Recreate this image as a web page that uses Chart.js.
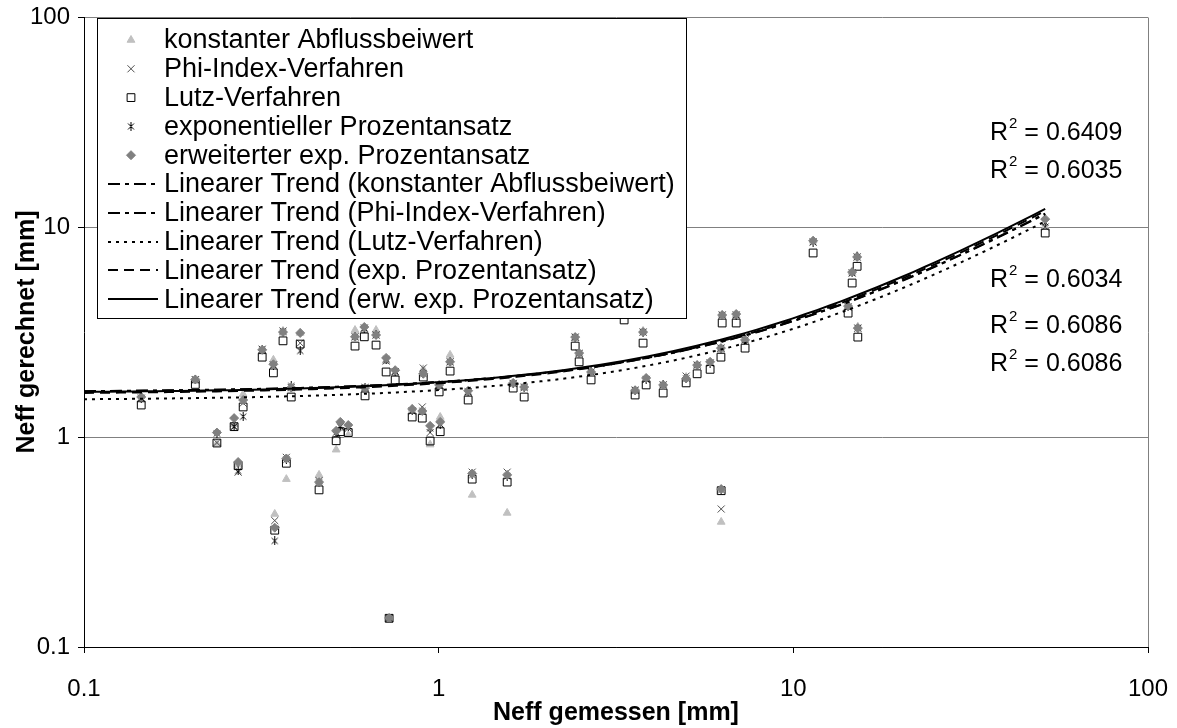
<!DOCTYPE html>
<html>
<head>
<meta charset="utf-8">
<script src="https://cdn.jsdelivr.net/npm/chart.js@4.4.0/dist/chart.umd.min.js"></script>
<style>
  html, body { margin: 0; padding: 0; background: #fff; }
  #wrap { width: 1177px; height: 728px; }
</style>
</head>
<body>
<div id="wrap"><canvas id="chart" width="1177" height="728"></canvas></div>
<script>
// --- Daten ---
const xGemessen = [0.145, 0.206, 0.237, 0.265, 0.272, 0.281, 0.318, 0.342, 0.345, 0.364,
  0.372, 0.384, 0.407, 0.460, 0.514, 0.528, 0.556, 0.581, 0.617, 0.620,
  0.666, 0.711, 0.725, 0.754, 0.842, 0.899, 0.905, 0.946, 1.003, 1.010,
  1.077, 1.211, 1.243, 1.56, 1.622, 1.742, 2.426, 2.489, 2.69, 3.334,
  3.58, 3.77, 3.846, 4.295, 4.986, 5.355, 5.826, 6.25, 6.26, 6.30,
  6.90, 7.31, 11.37, 14.27, 14.65, 15.13, 15.20, 51.3];

const yKonstant = [1.50, 1.85, 0.93, 1.15, 0.74, 1.60, 2.55, 2.33, 0.43, 3.20,
  0.63, 1.70, 3.13, 0.66, 0.87, 1.10, 1.02, 3.23, 3.20, 1.68,
  3.23, 2.30, 0.135, 2.00, 1.36, 1.33, 2.10, 0.92, 1.75, 1.245,
  2.46, 1.62, 0.53, 0.435, 1.78, 1.72, 2.95, 2.50, 2.05, 4.00,
  1.65, 3.20, 1.90, 1.77, 1.93, 2.20, 2.25, 2.60, 0.394, 3.81,
  3.81, 2.90, 8.60, 4.20, 6.10, 7.30, 3.35, 10.0];

const yPhi = [1.53, 1.87, 0.94, 1.12, 0.68, 1.45, 2.62, 2.20, 0.40, 3.20,
  0.80, 1.72, 2.80, 0.62, 1.02, 1.12, 1.10, 3.00, 3.30, 1.72,
  3.06, 2.30, 0.137, 2.05, 1.33, 1.39, 2.13, 1.05, 1.76, 1.15,
  2.28, 1.64, 0.68, 0.68, 1.80, 1.72, 2.99, 2.50, 2.04, 3.95,
  1.67, 3.16, 1.88, 1.77, 1.95, 2.20, 2.25, 2.65, 0.454, 3.81,
  3.81, 2.90, 8.48, 4.16, 6.04, 7.20, 3.30, 10.0];

const yLutz = [1.42, 1.78, 0.936, 1.12, 0.73, 1.39, 2.40, 2.02, 0.36, 2.87,
  0.75, 1.55, 2.77, 0.56, 0.96, 1.06, 1.05, 2.71, 3.00, 1.57,
  2.74, 2.04, 0.137, 1.87, 1.245, 1.23, 1.93, 0.957, 1.64, 1.06,
  2.06, 1.50, 0.63, 0.61, 1.71, 1.55, 2.71, 2.28, 1.87, 3.61,
  1.585, 2.80, 1.77, 1.62, 1.81, 2.00, 2.10, 2.40, 0.555, 3.49,
  3.49, 2.65, 7.52, 3.89, 5.41, 6.50, 2.99, 9.36];

const yExp = [1.53, 1.88, 1.04, 1.12, 0.69, 1.25, 2.60, 2.20, 0.32, 3.16,
  0.78, 1.75, 2.57, 0.61, 1.05, 1.12, 1.12, 3.00, 3.30, 1.72,
  3.06, 2.35, 0.137, 2.05, 1.33, 1.33, 2.00, 1.10, 1.76, 1.15,
  2.28, 1.64, 0.66, 0.65, 1.80, 1.73, 2.99, 2.50, 2.04, 3.95,
  1.67, 3.16, 1.88, 1.77, 1.90, 2.20, 2.25, 2.65, 0.56, 3.81,
  3.81, 2.90, 8.48, 4.16, 6.04, 7.20, 3.30, 10.5];

const yErw = [1.55, 1.88, 1.05, 1.23, 0.76, 1.50, 2.60, 2.22, 0.37, 3.16,
  0.79, 1.72, 3.13, 0.61, 1.07, 1.18, 1.14, 3.00, 3.34, 1.71,
  3.06, 2.38, 0.1375, 2.08, 1.36, 1.33, 2.00, 1.13, 1.77, 1.18,
  2.28, 1.66, 0.67, 0.66, 1.81, 1.73, 2.99, 2.51, 2.04, 3.95,
  1.67, 3.16, 1.91, 1.77, 1.90, 2.20, 2.28, 2.65, 0.565, 3.81,
  3.85, 2.90, 8.60, 4.20, 6.10, 7.20, 3.30, 10.9];

const axisTicks = [0.1, 1, 10, 100];
const r2Texte = ['0.6409', '0.6035', '0.6034', '0.6086', '0.6086'];

const serienNamen = ['konstanter Abflussbeiwert', 'Phi-Index-Verfahren', 'Lutz-Verfahren',
  'exponentieller Prozentansatz', 'erweiterter exp. Prozentansatz'];
const trendNamen = ['Linearer Trend (konstanter Abflussbeiwert)', 'Linearer Trend (Phi-Index-Verfahren)',
  'Linearer Trend (Lutz-Verfahren)', 'Linearer Trend (exp. Prozentansatz)',
  'Linearer Trend (erw. exp. Prozentansatz)'];

const FONT = "'Liberation Sans', Arial, sans-serif";

// --- Marker ---
function makeAsterisk() {
  const c = document.createElement('canvas');
  c.width = 9; c.height = 9;
  const g = c.getContext('2d');
  g.strokeStyle = '#000';
  g.lineWidth = 1;
  g.beginPath();
  g.moveTo(1.5, 1.5); g.lineTo(7.5, 7.5);
  g.moveTo(7.5, 1.5); g.lineTo(1.5, 7.5);
  g.moveTo(4.5, 0); g.lineTo(4.5, 9);
  g.stroke();
  return c;
}
const asterisk = makeAsterisk();

const marker = [
  { pointStyle: 'triangle', radius: 4.5, fill: '#c0c0c0', stroke: '#c0c0c0' },
  { pointStyle: 'crossRot', radius: 5, fill: 'rgba(0,0,0,0)', stroke: '#505050' },
  { pointStyle: 'rect', radius: 5.5, fill: 'rgba(0,0,0,0)', stroke: '#000' },
  { pointStyle: asterisk, radius: 4.5, fill: '#000', stroke: '#000' },
  { pointStyle: 'rectRot', radius: 4.5, fill: '#808080', stroke: '#808080' }
];
const trendDash = [[12, 5, 4, 5], [12, 5, 4, 5], [3, 5], [10, 6], []];

// --- Lineare Regression (wie Excel-Trendlinie) ---
function linFit(xs, ys) {
  const n = xs.length;
  const mx = xs.reduce((a, b) => a + b, 0) / n;
  const my = ys.reduce((a, b) => a + b, 0) / n;
  let sxy = 0, sxx = 0;
  for (let i = 0; i < n; i++) {
    sxy += (xs[i] - mx) * (ys[i] - my);
    sxx += (xs[i] - mx) * (xs[i] - mx);
  }
  const b = sxy / sxx;
  return { a: my - b * mx, b };
}

function trendPoints(ys) {
  const fit = linFit(xGemessen, ys);
  const lo = Math.log10(axisTicks[0]);
  const hi = Math.log10(Math.max(...xGemessen));
  const pts = [];
  for (let i = 0; i <= 80; i++) {
    const x = Math.pow(10, lo + (hi - lo) * i / 80);
    pts.push({ x, y: fit.a + fit.b * x });
  }
  return pts;
}

const serien = [yKonstant, yPhi, yLutz, yExp, yErw];
const datasets = [];
serien.forEach((ys, i) => {
  datasets.push({
    label: serienNamen[i],
    data: xGemessen.map((x, k) => ({ x, y: ys[k] })),
    pointStyle: marker[i].pointStyle,
    pointRadius: marker[i].radius,
    pointBackgroundColor: marker[i].fill,
    pointBorderColor: marker[i].stroke,
    pointBorderWidth: 1,
    showLine: false,
    order: 10 - i
  });
});
serien.forEach((ys, i) => {
  datasets.push({
    label: trendNamen[i],
    data: trendPoints(ys),
    showLine: true,
    pointRadius: 0,
    borderColor: '#000',
    borderWidth: 2,
    borderDash: trendDash[i],
    fill: false,
    tension: 0,
    order: 1
  });
});

// --- Legende, Rahmen und R²-Beschriftung ---
const extrasPlugin = {
  id: 'extras',
  beforeDatasetsDraw(chart) {
    const { ctx, chartArea: a } = chart;
    ctx.save();
    ctx.strokeStyle = '#808080';
    ctx.lineWidth = 1;
    ctx.beginPath();
    ctx.moveTo(Math.round(a.right) + 0.5, Math.round(a.top) + 0.5);
    ctx.lineTo(Math.round(a.right) + 0.5, Math.round(a.bottom));
    ctx.stroke();
    ctx.restore();
  },
  afterDraw(chart) {
    const ctx = chart.ctx;
    ctx.save();
    // Legendenkasten
    ctx.fillStyle = '#fff';
    ctx.fillRect(97.5, 18.5, 589, 300);
    ctx.strokeStyle = '#000';
    ctx.lineWidth = 1;
    ctx.strokeRect(97.5, 18.5, 589, 300);

    ctx.font = '27px ' + FONT;
    ctx.textBaseline = 'middle';
    ctx.textAlign = 'left';
    const names = serienNamen.concat(trendNamen);
    names.forEach((name, i) => {
      const y = 40 + i * 28.8;
      if (i < 5) {
        const m = marker[i];
        ctx.fillStyle = m.fill;
        ctx.strokeStyle = m.stroke;
        ctx.lineWidth = 1;
        Chart.helpers.drawPoint(ctx, { pointStyle: m.pointStyle, radius: m.radius, rotation: 0, borderWidth: 1 }, 131, y);
      } else {
        ctx.strokeStyle = '#000';
        ctx.lineWidth = 2;
        ctx.setLineDash(trendDash[i - 5]);
        ctx.beginPath();
        ctx.moveTo(108, Math.round(y));
        ctx.lineTo(158, Math.round(y));
        ctx.stroke();
        ctx.setLineDash([]);
      }
      ctx.fillStyle = '#000';
      ctx.fillText(name, 164, y + 1);
    });

    // R²-Werte
    const r2Y = [133, 171, 280, 326, 364];
    r2Texte.forEach((t, i) => {
      const y = r2Y[i];
      let x = 990;
      ctx.font = '25px ' + FONT;
      ctx.fillText('R', x, y);
      x += ctx.measureText('R').width;
      ctx.font = '15px ' + FONT;
      ctx.fillText('2', x + 1, y - 9);
      x += ctx.measureText('2').width + 1;
      ctx.font = '25px ' + FONT;
      ctx.fillText(' = ' + t, x, y);
    });
    ctx.restore();
  }
};

const ctx = document.getElementById('chart').getContext('2d');
new Chart(ctx, {
  type: 'scatter',
  data: { datasets },
  options: {
    responsive: false,
    animation: false,
    devicePixelRatio: 1,
    layout: { padding: { left: 0, right: 29, top: 17, bottom: 0 } },
    plugins: { legend: { display: false }, tooltip: { enabled: false } },
    scales: {
      x: {
        type: 'logarithmic',
        min: 0.1, max: 100,
        afterBuildTicks: s => { s.ticks = axisTicks.map(v => ({ value: v })); },
        afterFit: s => { s.height = 81; s.paddingLeft = 0; s.paddingRight = 0; },
        grid: { drawOnChartArea: false, drawTicks: true, tickLength: 6, tickColor: '#000' },
        border: { display: true, color: '#000', width: 1 },
        ticks: { color: '#000', font: { family: FONT, size: 24 }, padding: 22, maxRotation: 0, autoSkip: false,
          callback: v => String(v) },
        title: { display: true, text: 'Neff gemessen [mm]', color: '#000',
          font: { family: FONT, size: 25, weight: 'bold' }, padding: { top: 0, bottom: 0 } }
      },
      y: {
        type: 'logarithmic',
        min: 0.1, max: 100,
        afterBuildTicks: s => { s.ticks = axisTicks.map(v => ({ value: v })); },
        afterFit: s => { s.width = 84; s.paddingTop = 0; s.paddingBottom = 0; },
        grid: { color: c => (c.index === 0 ? '#000' : '#808080'), lineWidth: 1, drawTicks: true, tickLength: 6, tickColor: '#000' },
        border: { display: true, color: '#000', width: 1 },
        ticks: { color: '#000', font: { family: FONT, size: 24 }, padding: 8, autoSkip: false,
          callback: v => String(v) },
        title: { display: true, text: 'Neff gerechnet [mm]', color: '#000',
          font: { family: FONT, size: 25, weight: 'bold' }, padding: { top: 12, bottom: 0 } }
      }
    }
  },
  plugins: [extrasPlugin]
});
</script>
</body>
</html>
